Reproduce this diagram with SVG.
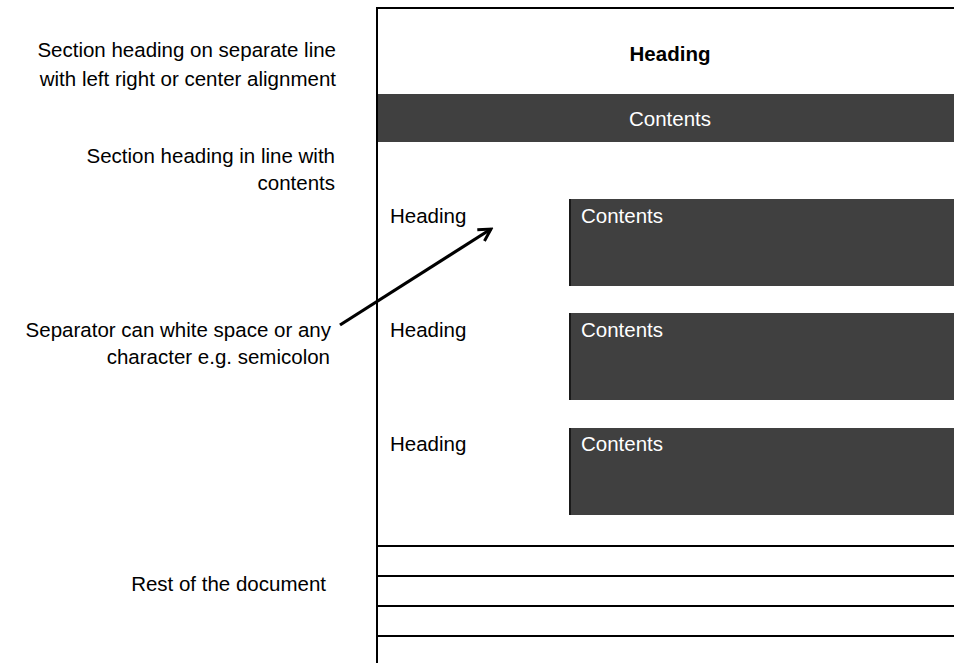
<svg xmlns="http://www.w3.org/2000/svg" width="954" height="663" viewBox="0 0 954 663">
<style>
text{font-family:"Liberation Sans","DejaVu Sans",sans-serif;font-size:20.5px;fill:#000}
.l{text-anchor:end}
.c{text-anchor:middle}
.w{fill:#fff}
.b{font-weight:bold}
.box{fill:#404040}
.edge{stroke:#1a1a1a;stroke-width:2}
.ln{stroke:#000;stroke-width:2;fill:none}
</style>
<defs>
<marker id="ah" viewBox="0 0 12 12" refX="10" refY="6" markerWidth="5" markerHeight="5" orient="auto" markerUnits="strokeWidth">
<path d="M1,1 L10,6 L1,11" fill="none" stroke="#000" stroke-width="2.2" stroke-linejoin="miter"/>
</marker>
</defs>
<g id="labels">
<text class="l" x="336" y="57">Section heading on separate line</text>
<text class="l" x="336" y="86">with left right or center alignment</text>
<text class="l" x="335" y="163">Section heading in line with</text>
<text class="l" x="335" y="190">contents</text>
<text class="l" x="331" y="337">Separator can white space or any</text>
<text class="l" x="330" y="364">character e.g. semicolon</text>
<text class="l" x="326" y="591">Rest of the document</text>
</g>
<g id="page">
<path class="ln" d="M377,663 V8 H954"/>
<line class="ln" x1="377" y1="546" x2="954" y2="546"/>
<line class="ln" x1="377" y1="576" x2="954" y2="576"/>
<line class="ln" x1="377" y1="606" x2="954" y2="606"/>
<line class="ln" x1="377" y1="636" x2="954" y2="636"/>
</g>
<g id="top-heading">
<text class="c b" x="670" y="61">Heading</text>
</g>
<g id="top-contents">
<rect class="box" x="378" y="94" width="576" height="48"/>
<text class="c w" x="670" y="126">Contents</text>
</g>
<g id="row1">
<text x="390" y="223">Heading</text>
<rect class="box" x="569" y="199" width="385" height="87"/>
<line class="edge" x1="570" y1="199" x2="570" y2="286"/>
<text class="w" x="581" y="223">Contents</text>
</g>
<g id="row2">
<text x="390" y="337">Heading</text>
<rect class="box" x="569" y="313" width="385" height="87"/>
<line class="edge" x1="570" y1="313" x2="570" y2="400"/>
<text class="w" x="581" y="337">Contents</text>
</g>
<g id="row3">
<text x="390" y="451">Heading</text>
<rect class="box" x="569" y="428" width="385" height="87"/>
<line class="edge" x1="570" y1="428" x2="570" y2="515"/>
<text class="w" x="581" y="451">Contents</text>
</g>
<g id="connectors">
<line x1="340" y1="325" x2="491" y2="229" stroke="#000" stroke-width="3.2" marker-end="url(#ah)"/>
</g>
</svg>
